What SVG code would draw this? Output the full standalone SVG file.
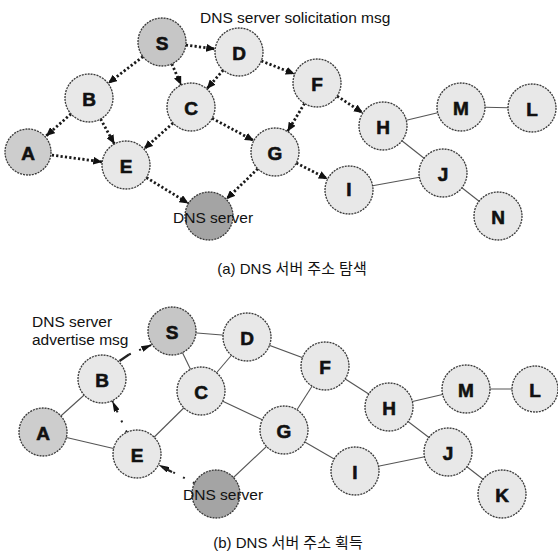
<svg xmlns="http://www.w3.org/2000/svg" width="558" height="556" viewBox="0 0 558 556">
  <style>
    .node { fill: #e8e8e8; stroke: #3a3a3a; stroke-width: 1.3; stroke-dasharray: 2 1; }
    .src { fill: #c6c6c6; }
    .edge { fill: #cdcdcd; }
    .srv { fill: #a4a4a4; }
    .lbl { font-family: "Liberation Sans", Arial, sans-serif; font-weight: bold; font-size: 19px; fill: #111; stroke: #111; stroke-width: 0.6; text-anchor: middle; dominant-baseline: central; }
    .txt { font-family: "Liberation Sans", Arial, sans-serif; font-size: 15.5px; fill: #111; }
    .cap { font-family: "Liberation Sans", Arial, "Noto Sans CJK KR", sans-serif; font-size: 15px; fill: #111; text-anchor: middle; }
    .link { stroke: #555; stroke-width: 1.1; fill: none; }
    .flood { stroke: #1a1a1a; stroke-width: 2.8; stroke-dasharray: 2.2 2.2; fill: none; marker-end: url(#head); }
    .reply { stroke: #222; stroke-width: 2; stroke-dasharray: 2 9; fill: none; marker-end: url(#headThin); }
    .tail { stroke: #222; stroke-width: 2.2; fill: none; }
  </style>
  <defs>
    <marker id="head" markerUnits="userSpaceOnUse" markerWidth="9" markerHeight="8" refX="9" refY="4" orient="auto">
      <path d="M0,0 L9,4 L0,8 z" fill="#111"/>
    </marker>
    <marker id="headThin" markerUnits="userSpaceOnUse" markerWidth="11" markerHeight="6" refX="11" refY="3" orient="auto">
      <path d="M0,0 L11,3 L0,6 z" fill="#111"/>
    </marker>
  </defs>

  <rect width="558" height="556" fill="#fff"/>

  <!-- (a) solicitation flood -->
  <g id="connectors-a">
    <line class="link" x1="406.3" y1="120.3" x2="437.7" y2="112.7"/>
    <line class="link" x1="485" y1="107.2" x2="508" y2="107.8"/>
    <line class="link" x1="401.9" y1="140.8" x2="424.1" y2="158.2"/>
    <line class="link" x1="372.6" y1="185.7" x2="419.4" y2="177.3"/>
    <line class="link" x1="461.9" y1="187.8" x2="479.1" y2="201.2"/>

    <line class="flood" x1="185.8" y1="45.1" x2="215.2" y2="48.9"/>
    <line class="flood" x1="143.0" y1="56.6" x2="108.0" y2="83.4"/>
    <line class="flood" x1="171.8" y1="63.9" x2="181.2" y2="85.1"/>
    <line class="flood" x1="223.2" y1="70.1" x2="206.8" y2="88.9"/>
    <line class="flood" x1="261.3" y1="60.9" x2="294.7" y2="74.1"/>
    <line class="flood" x1="71.0" y1="113.9" x2="46.0" y2="136.1"/>
    <line class="flood" x1="100.6" y1="119.0" x2="114.4" y2="144.0"/>
    <line class="flood" x1="51.8" y1="155.1" x2="102.2" y2="161.9"/>
    <line class="flood" x1="173.1" y1="123.0" x2="143.9" y2="149.0"/>
    <line class="flood" x1="212.1" y1="118.3" x2="253.9" y2="140.7"/>
    <line class="flood" x1="304.5" y1="103.5" x2="287.5" y2="131.5"/>
    <line class="flood" x1="337.1" y1="96.1" x2="362.9" y2="112.9"/>
    <line class="flood" x1="146.4" y1="177.6" x2="188.6" y2="203.4"/>
    <line class="flood" x1="257.8" y1="168.7" x2="226.2" y2="199.3"/>
    <line class="flood" x1="296.3" y1="163.0" x2="327.7" y2="179.0"/>
  </g>

  <g id="a-S"><circle class="node src" cx="162" cy="42" r="24"/><text class="lbl" x="162" y="43">S</text></g>
  <g id="a-D"><circle class="node" cx="239" cy="52" r="24"/><text class="lbl" x="239" y="53">D</text></g>
  <g id="a-B"><circle class="node" cx="89" cy="98" r="24"/><text class="lbl" x="89" y="99">B</text></g>
  <g id="a-C"><circle class="node" cx="191" cy="107" r="24"/><text class="lbl" x="191" y="108">C</text></g>
  <g id="a-A"><circle class="node edge" cx="28" cy="152" r="23"/><text class="lbl" x="28" y="153">A</text></g>
  <g id="a-E"><circle class="node" cx="126" cy="165" r="24"/><text class="lbl" x="126" y="166">E</text></g>
  <g id="a-G"><circle class="node" cx="275" cy="152" r="24"/><text class="lbl" x="275" y="153">G</text></g>
  <g id="a-F"><circle class="node" cx="317" cy="83" r="24"/><text class="lbl" x="317" y="84">F</text></g>
  <g id="a-H"><circle class="node" cx="383" cy="126" r="24"/><text class="lbl" x="383" y="127">H</text></g>
  <g id="a-M"><circle class="node" cx="461" cy="107" r="24"/><text class="lbl" x="461" y="108">M</text></g>
  <g id="a-L"><circle class="node" cx="532" cy="108" r="24"/><text class="lbl" x="532" y="109">L</text></g>
  <g id="a-J"><circle class="node" cx="443" cy="173" r="24"/><text class="lbl" x="443" y="174">J</text></g>
  <g id="a-I"><circle class="node" cx="349" cy="190" r="24"/><text class="lbl" x="349" y="189">I</text></g>
  <g id="a-N"><circle class="node" cx="498" cy="216" r="24"/><text class="lbl" x="498" y="217">N</text></g>
  <g id="a-DNS"><circle class="node srv" cx="209" cy="216" r="24"/><text class="txt" x="173" y="223">DNS server</text></g>

  <text class="txt" x="200" y="23">DNS server solicitation msg</text>
  <text class="cap" x="292" y="274">(a) DNS 서버 주소 탐색</text>

  <!-- (b) advertisement reply -->
  <g id="connectors-b">
    <line class="link" x1="43" y1="432" x2="102" y2="379"/>
    <line class="link" x1="43" y1="432" x2="137" y2="454"/>
    <line class="link" x1="172" y1="331" x2="247" y2="337"/>
    <line class="link" x1="172" y1="331" x2="201" y2="391"/>
    <line class="link" x1="247" y1="337" x2="201" y2="391"/>
    <line class="link" x1="247" y1="337" x2="325" y2="366"/>
    <line class="link" x1="201" y1="391" x2="137" y2="454"/>
    <line class="link" x1="201" y1="391" x2="284" y2="430"/>
    <line class="link" x1="325" y1="366" x2="284" y2="430"/>
    <line class="link" x1="325" y1="366" x2="389" y2="407"/>
    <line class="link" x1="389" y1="407" x2="466" y2="389"/>
    <line class="link" x1="466" y1="389" x2="535" y2="389"/>
    <line class="link" x1="389" y1="407" x2="448" y2="452"/>
    <line class="link" x1="284" y1="430" x2="355" y2="471"/>
    <line class="link" x1="355" y1="471" x2="448" y2="452"/>
    <line class="link" x1="448" y1="452" x2="502" y2="494"/>
    <line class="link" x1="284" y1="430" x2="216" y2="494"/>

    <line class="tail" x1="119.5" y1="361" x2="129" y2="354.5"/>
    <line class="reply" x1="129" y1="354.5" x2="152.2" y2="344.6"/>
    <line class="reply" x1="126.8" y1="432.3" x2="112.2" y2="400.7"/>
    <line class="reply" x1="194.6" y1="483.2" x2="158.4" y2="464.8"/>
    <line class="tail" x1="172" y1="472" x2="163" y2="467.4"/>
  </g>

  <g id="b-S"><circle class="node src" cx="172" cy="331" r="24"/><text class="lbl" x="172" y="332">S</text></g>
  <g id="b-D"><circle class="node" cx="247" cy="337" r="24"/><text class="lbl" x="247" y="338">D</text></g>
  <g id="b-B"><circle class="node" cx="102" cy="379" r="24"/><text class="lbl" x="102" y="380">B</text></g>
  <g id="b-C"><circle class="node" cx="201" cy="391" r="24"/><text class="lbl" x="201" y="392">C</text></g>
  <g id="b-A"><circle class="node edge" cx="43" cy="432" r="24"/><text class="lbl" x="43" y="433">A</text></g>
  <g id="b-E"><circle class="node" cx="137" cy="454" r="24"/><text class="lbl" x="137" y="455">E</text></g>
  <g id="b-G"><circle class="node" cx="284" cy="430" r="24"/><text class="lbl" x="284" y="431">G</text></g>
  <g id="b-F"><circle class="node" cx="325" cy="366" r="24"/><text class="lbl" x="325" y="367">F</text></g>
  <g id="b-H"><circle class="node" cx="389" cy="407" r="24"/><text class="lbl" x="389" y="408">H</text></g>
  <g id="b-M"><circle class="node" cx="466" cy="389" r="24"/><text class="lbl" x="466" y="390">M</text></g>
  <g id="b-L"><circle class="node" cx="535" cy="389" r="23"/><text class="lbl" x="535" y="390">L</text></g>
  <g id="b-J"><circle class="node" cx="448" cy="452" r="24"/><text class="lbl" x="448" y="453">J</text></g>
  <g id="b-I"><circle class="node" cx="355" cy="471" r="24"/><text class="lbl" x="355" y="472">I</text></g>
  <g id="b-K"><circle class="node" cx="502" cy="494" r="24"/><text class="lbl" x="502" y="495">K</text></g>
  <g id="b-DNS"><circle class="node srv" cx="216" cy="494" r="24"/><text class="txt" x="183" y="500">DNS server</text></g>

  <text class="txt" x="32" y="327">DNS server</text>
  <text class="txt" x="32" y="345">advertise msg</text>
  <text class="cap" x="288" y="548">(b) DNS 서버 주소 획득</text>
</svg>
